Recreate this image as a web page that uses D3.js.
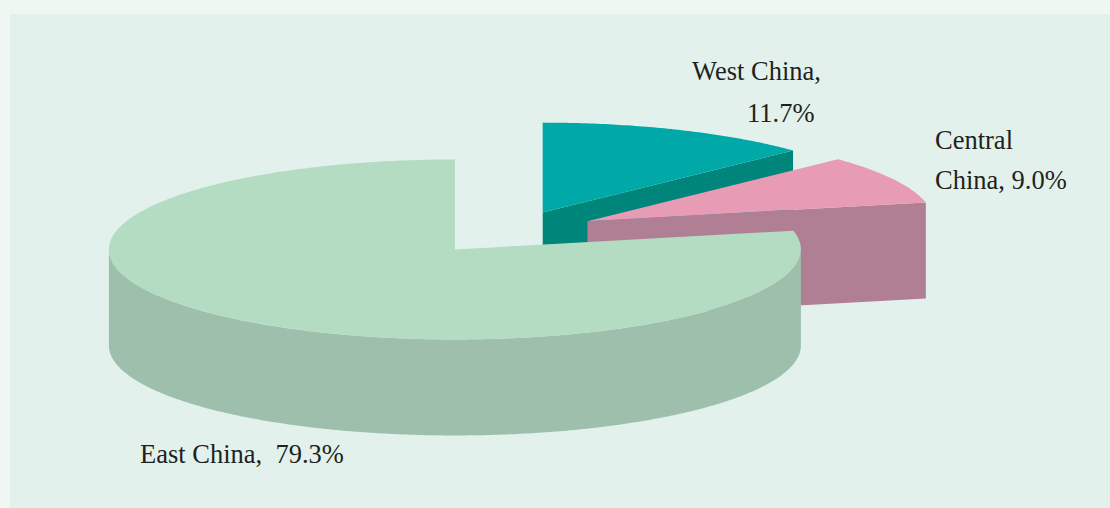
<!DOCTYPE html>
<html>
<head>
<meta charset="utf-8">
<script src="https://cdn.jsdelivr.net/npm/d3@7"></script>
<style>
  html, body { margin: 0; padding: 0; background: #EEF7F2; }
  svg { display: block; }
  text { font-family: "Liberation Serif", "Times New Roman", serif; fill: #231F20; }
</style>
</head>
<body>
<svg id="chart" width="1110" height="508"></svg>
<script>
// ---- data ----
const categories = ["West China", "Central China", "East China"];
const values = [11.7, 9.0, 79.3];
const valueLabels = ["11.7%", "9.0%", "79.3%"];
const labelLines = [["West China,", "11.7%"], ["Central", "China, 9.0%"], ["East China,  79.3%"]];

// ---- style / layout ----
const topColors = ["#00A9A8", "#E89BB5", "#B3DCC3"];
const sideColors = ["#00857A", "#B07F94", "#9DBFAC"];
const W = 1110, H = 508;
const C = { x: 510, y: 232.5 };
const rx = 346, ry = 90, depth = 96;
const explodeX = 91, explodeY = 21.3;
// mild angular distortion imitating the 3-D view of the original renderer
const warpA = 2.0 * Math.PI / 180, warpB = 2.9 * Math.PI / 180;
const warp = a => a + warpA * Math.sin(a) + warpB * Math.sin(2 * a);
const labelPos = [
  [[692, 80], [747, 122]],
  [[935, 149], [935, 189]],
  [[140, 463]]
];

const svg = d3.select("#chart");
svg.append("rect").attr("x", 0).attr("y", 0).attr("width", W).attr("height", H).attr("fill", "#EEF7F2");
svg.append("rect").attr("x", 10).attr("y", 14).attr("width", W - 10).attr("height", H - 14).attr("fill", "#E2F1EC");

const pie = d3.pie().sort(null).value(d => d.value);
const data = categories.map((c, i) => ({ name: c, value: values[i], i }));
const arcs = pie(data);

const topColor = d3.scaleOrdinal().domain(categories).range(topColors);
const sideColor = d3.scaleOrdinal().domain(categories).range(sideColors);

function pt(s, a, bottom) {
  const w = warp(a);
  return [s.cx + rx * Math.sin(w), s.cy - ry * Math.cos(w) + (bottom ? depth : 0)];
}
function arcPts(s, a0, a1, bottom) {
  const n = Math.max(2, Math.ceil(Math.abs(a1 - a0) / 0.01));
  const out = [];
  for (let k = 0; k <= n; k++) out.push(pt(s, a0 + (a1 - a0) * k / n, bottom));
  return out;
}
const line = d3.line();

const slices = arcs.map(a => {
  const mid = (a.startAngle + a.endAngle) / 2;
  return {
    arc: a,
    name: a.data.name,
    cx: C.x + explodeX * Math.sin(mid),
    cy: C.y - explodeY * Math.cos(mid)
  };
});
// painter's order: far (small y) first
const order = slices.slice().sort((p, q) => p.cy - q.cy);

const g = svg.append("g");
order.forEach(s => {
  const a0 = s.arc.startAngle, a1 = s.arc.endAngle;
  const w0a = warp(a0), w1a = warp(a1);
  const grp = g.append("g").attr("class", "slice");
  const apexT = [s.cx, s.cy], apexB = [s.cx, s.cy + depth];
  // cut faces
  const faces = [];
  if (Math.cos(w0a - Math.PI / 2) < 0) faces.push(a0);
  if (Math.cos(w1a + Math.PI / 2) < 0) faces.push(a1);
  faces.forEach(a => {
    const p = [apexT, pt(s, a, false), pt(s, a, true), apexB];
    grp.append("path").attr("d", line(p) + "Z").attr("fill", sideColor(s.name));
  });
  // outer wall (front half)
  const wStart = Math.max(w0a, Math.PI / 2), wEnd = Math.min(w1a, 3 * Math.PI / 2);
  if (wEnd > wStart) {
    const inv = t => { let lo = 0, hi = 2 * Math.PI; for (let k = 0; k < 60; k++) { const m = (lo + hi) / 2; if (warp(m) < t) lo = m; else hi = m; } return (lo + hi) / 2; };
    const u0 = Math.max(a0, inv(wStart)), u1 = Math.min(a1, inv(wEnd));
    const p = arcPts(s, u0, u1, false).concat(arcPts(s, u1, u0, true));
    grp.append("path").attr("d", line(p) + "Z").attr("fill", sideColor(s.name));
  }
  // top
  const tp = [apexT].concat(arcPts(s, a0, a1, false));
  grp.append("path").attr("d", line(tp) + "Z").attr("fill", topColor(s.name));
});

// labels
const lab = svg.append("g").attr("font-size", 26.5);
labelLines.forEach((lines, i) => {
  lines.forEach((t, j) => {
    lab.append("text")
      .attr("x", labelPos[i][j][0])
      .attr("y", labelPos[i][j][1])
      .attr("xml:space", "preserve")
      .style("white-space", "pre")
      .text(t);
  });
});
</script>
</body>
</html>
